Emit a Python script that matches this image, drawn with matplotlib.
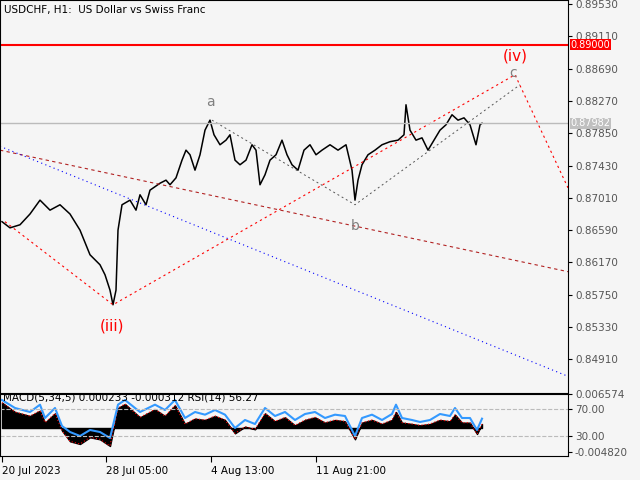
import matplotlib
matplotlib.use("Agg")
import matplotlib.pyplot as plt

# price path (bar position, close)
px = [2, 10, 20, 30, 40, 50, 60, 70, 80, 90, 100, 105, 110, 113, 116, 118, 122, 130, 136, 140,
      146, 150, 160, 166, 170, 176, 182, 186, 190, 195, 200, 205, 210, 214, 220, 226, 230, 235,
      240, 246, 252, 256, 260, 265, 270, 276, 282, 287, 292, 298, 304, 310, 316, 322, 330, 338,
      346, 352, 355, 358, 362, 368, 375, 382, 390, 398, 404, 406, 410, 416, 422, 428, 434, 440,
      446, 452, 458, 464, 470, 476, 480, 482]
close = [0.8670, 0.8662, 0.8666, 0.8680, 0.8698, 0.8685, 0.8692, 0.8680, 0.8659, 0.8627, 0.8614,
         0.8601, 0.8581, 0.8562, 0.8581, 0.8659, 0.8692, 0.8698, 0.8685, 0.8705, 0.8692, 0.8711,
         0.8720, 0.8724, 0.8718, 0.8727, 0.8750, 0.8763, 0.8757, 0.8737, 0.8757, 0.8789, 0.8802,
         0.8783, 0.8770, 0.8776, 0.8783, 0.8750, 0.8744, 0.8750, 0.8770, 0.8763, 0.8718, 0.8731,
         0.8750, 0.8757, 0.8776, 0.8757, 0.8744, 0.8737, 0.8763, 0.8770, 0.8757, 0.8763, 0.8770,
         0.8763, 0.8770, 0.8737, 0.8698, 0.8724, 0.8744, 0.8757, 0.8763, 0.8770, 0.8774, 0.8776,
         0.8783, 0.8822, 0.8789, 0.8776, 0.8779, 0.8763, 0.8776, 0.8789, 0.8796, 0.8809, 0.8802,
         0.8805, 0.8796, 0.8770, 0.8796, 0.8798]

# wave lines
wave_x = [5, 113, 515, 568]; wave_y = [0.8670, 0.8562, 0.8861, 0.8714]
abc_x = [212, 355, 520]; abc_y = [0.8802, 0.8692, 0.8848]
brown_x = [0, 568]; brown_y = [0.8763, 0.8605]
blue_x = [0, 568]; blue_y = [0.8768, 0.8469]
level_red = 0.89000
last_price = 0.87982

price_ticks = [0.89530, 0.89110, 0.88690, 0.88270, 0.87850, 0.87430, 0.87010,
               0.86590, 0.86170, 0.85750, 0.85330, 0.84910]
date_pos = [2, 106, 211, 316]
date_labels = ["20 Jul 2023", "28 Jul 05:00", "4 Aug 13:00", "11 Aug 21:00"]

# indicator (RSI scale), MACD histogram mapped to same panel
ix = [2, 15, 30, 40, 45, 55, 62, 70, 80, 90, 100, 110, 118, 125, 140, 155, 165, 175, 185, 195,
      205, 215, 225, 235, 245, 255, 265, 275, 285, 295, 305, 315, 325, 335, 345, 355, 362, 372,
      382, 392, 396, 402, 412, 420, 430, 440, 450, 455, 462, 470, 477, 482]
rsi = [84, 72, 66, 77, 57, 72, 45, 36, 30, 39, 36, 27, 77, 84, 66, 77, 69, 84, 57, 66,
       62, 69, 62, 42, 54, 48, 72, 60, 66, 54, 63, 66, 57, 62, 60, 30, 57, 62, 54, 63,
       77, 57, 54, 51, 54, 63, 60, 72, 57, 57, 39, 56]
hist = [80, 66, 60, 68, 50, 64, 38, 22, 18, 28, 25, 15, 72, 78, 58, 70, 60, 76, 48, 56,
        54, 60, 54, 34, 44, 40, 64, 52, 58, 46, 54, 58, 50, 54, 52, 25, 50, 54, 48, 54,
        66, 50, 48, 46, 48, 54, 52, 62, 50, 50, 33, 48]
zero_level = 42

bg = "#f5f5f5"
fig = plt.figure(figsize=(6.4, 4.8), dpi=100, facecolor=bg)
ax = fig.add_axes([0, 87 / 480, 568 / 640, 393 / 480], facecolor=bg)
ax2 = fig.add_axes([0, 24 / 480, 568 / 640, 62 / 480], facecolor=bg)

p2y = lambda y: 0.8953 - (y - 4) * 0.00013
ax.set_xlim(0, 568)
ax.set_ylim(p2y(393), p2y(0))
ax.plot(px, close, color="black", lw=1.1)
ax.plot(wave_x, wave_y, color="red", lw=0.8, ls=(0, (2, 3)))
ax.plot(abc_x, abc_y, color="#555555", lw=0.7, ls=(0, (2, 3)))
ax.plot(brown_x, brown_y, color="#b22222", lw=0.8, ls=(0, (3, 3)))
ax.plot(blue_x, blue_y, color="blue", lw=0.8, ls=(0, (1, 3)))
ax.axhline(level_red, color="red", lw=1.5)
ax.axhline(last_price, color="#bbbbbb", lw=1)

for t, x, y, c, fs in [("a", 210, 0.8825, "gray", 10), ("b", 355, 0.8665, "gray", 10),
                       ("c", 513, 0.8863, "gray", 10), ("(iii)", 112, 0.8534, "red", 11),
                       ("(iv)", 515, 0.8885, "red", 11)]:
    ax.text(x, y, t, color=c, fontsize=fs, ha="center", va="center")

ax.text(4, p2y(10), "USDCHF, H1:  US Dollar vs Swiss Franc", fontsize=7.5, va="center")
ax.yaxis.tick_right()
ax.set_yticks(price_ticks)
ax.set_yticklabels(["%.5f" % v for v in price_ticks], fontsize=7.5, color="#555555")
ax.tick_params(axis="y", length=3, pad=2)
ax.set_xticks([])
for v, fc, tc in [(level_red, "red", "white"), (last_price, "#c0c0c0", "white")]:
    ax.text(1.004, v, "%.5f" % v, transform=ax.get_yaxis_transform(), fontsize=7,
            color=tc, va="center", ha="left",
            bbox=dict(boxstyle="square,pad=0.05", fc=fc, ec="none"))

ax2.set_xlim(0, 568)
ax2.set_ylim(0, 93)
ax2.fill_between(ix, zero_level, hist, color="black")
ax2.plot(ix, hist, color="red", lw=0.8, ls=(0, (1, 2)))
ax2.plot(ix, rsi, color="#3399ff", lw=1.5)
for lv in (70, 30):
    ax2.axhline(lv, color="#bbbbbb", lw=0.8, ls="--")
ax2.text(3, 88, "MACD(5,34,5) 0.000233 -0.000312 RSI(14) 56.27", fontsize=7.5, va="center")
ax2.yaxis.tick_right()
ax2.set_yticks([93, 70, 30, 6])
ax2.set_yticklabels(["0.006574", "70.00", "30.00", "-0.004820"], fontsize=7.5, color="#555555")
ax2.tick_params(axis="y", length=3, pad=2)
ax2.set_xticks(date_pos)
ax2.set_xticklabels(date_labels, fontsize=7.5, ha="left")
ax2.tick_params(axis="x", length=4, pad=3)

fig.savefig("out.png", dpi=100, facecolor=bg)
